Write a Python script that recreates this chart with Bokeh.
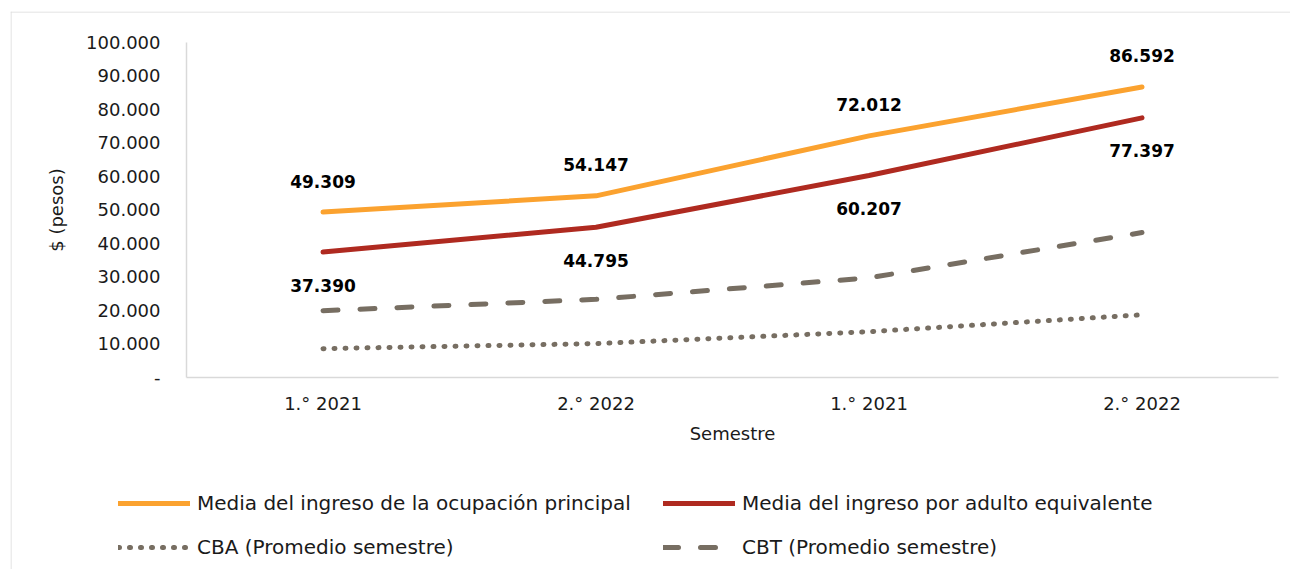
from bokeh.plotting import figure
from bokeh.models import Range1d, FixedTicker, Legend, LegendItem, ColumnDataSource, LabelSet, Span
from bokeh.core.properties import value
from bokeh.embed import file_html
from bokeh.resources import INLINE

# ---- data ----
categories = ["1.° 2021", "2.° 2022", "1.° 2021", "2.° 2022"]
media_ocupacion = [49309, 54147, 72012, 86592]
media_adulto = [37390, 44795, 60207, 77397]
cba = [8600, 10100, 13650, 18700]
cbt = [19900, 23300, 29700, 43200]
y_ticks = [0, 10000, 20000, 30000, 40000, 50000, 60000, 70000, 80000, 90000, 100000]

FONT = "DejaVu Sans"
ORANGE = "#FBA22F"
RED = "#AF2A20"
GRAY = "#776E62"
AXIS_GRAY = "#D9D9D9"
TXT = "#1a1a1a"

def fmt(v):
    return "-" if v == 0 else f"{v:,}".replace(",", ".")

xs = [i + 0.5 for i in range(len(categories))]
n = len(categories)
YMAX = 100000

# ---- layout (pixels) ----
W, H = 1290, 569
FL, FT = 10, 11                 # chart-area frame left/top
AX_L, AX_R = 186, 1278          # plotted x extent
AX_T, AX_B = 41.5, 377          # plotted y extent (YMAX .. 0)
ux = (AX_R - AX_L) / n
uy = (AX_B - AX_T) / YMAX
x_range = Range1d(-(AX_L - FL) / ux, n + (W - AX_R) / ux)
y_range = Range1d(-(H - AX_B) / uy, YMAX + (AX_T - FT) / uy)

p = figure(width=W, height=H, output_backend="svg", toolbar_location=None,
           x_range=x_range, y_range=y_range,
           min_border_left=FL, min_border_top=FT, min_border_right=0, min_border_bottom=0)
p.outline_line_color = None
p.xgrid.visible = False
p.ygrid.visible = False

# chart-area border (left and top edges only, as in the reference)
p.add_layout(Span(location=x_range.start + 0.5 / ux, dimension="height",
                  line_color=AXIS_GRAY, line_width=1))
p.add_layout(Span(location=y_range.end - 0.5 / uy, dimension="width",
                  line_color=AXIS_GRAY, line_width=1))

# axes (fixed at the data origin, bounded to the data extent)
p.yaxis.ticker = FixedTicker(ticks=y_ticks)
p.yaxis.major_label_overrides = {t: fmt(t) for t in y_ticks}
p.xaxis.ticker = FixedTicker(ticks=xs)
p.xaxis.major_label_overrides = {x: c for x, c in zip(xs, categories)}
p.xaxis.fixed_location = 0
p.yaxis.fixed_location = 0
p.xaxis.bounds = (0, n)
p.yaxis.bounds = (0, YMAX)
for ax in (p.xaxis, p.yaxis):
    ax.axis_line_color = AXIS_GRAY
    ax.axis_line_width = 1.5
    ax.major_tick_line_color = None
    ax.minor_tick_line_color = None
    ax.major_label_text_font = FONT
    ax.major_label_text_font_size = "18px"
    ax.major_label_text_color = TXT
    ax.axis_label_text_font = FONT
    ax.axis_label_text_font_size = "18px"
    ax.axis_label_text_font_style = "normal"
    ax.axis_label_text_color = TXT
p.yaxis.major_label_standoff = 20
p.xaxis.major_label_standoff = 9
p.yaxis.axis_label = "$ (pesos)"
p.xaxis.axis_label = "Semestre"
p.yaxis.axis_label_standoff = 16
p.xaxis.axis_label_standoff = 6

# lines
r_or = p.line(xs, media_ocupacion, line_color=ORANGE, line_width=5, line_cap="round")
r_red = p.line(xs, media_adulto, line_color=RED, line_width=5, line_cap="round")
r_cbt = p.line(xs, cbt, line_color=GRAY, line_width=5, line_cap="round", line_dash="15 22")
r_cba = p.line(xs, cba, line_color=GRAY, line_width=5, line_cap="round", line_dash="1 10")

# data labels
src_or = ColumnDataSource(dict(x=xs, y=media_ocupacion, t=[fmt(v) for v in media_ocupacion]))
src_red = ColumnDataSource(dict(x=xs, y=media_adulto, t=[fmt(v) for v in media_adulto]))
for src, off in ((src_or, 31), (src_red, -33)):
    p.add_layout(LabelSet(x="x", y="y", text="t", source=src, y_offset=off, text_align="center",
                          text_baseline="middle", text_font=value(FONT), text_font_size=value("17px"),
                          text_font_style=value("bold"), text_color=value("#000000")))

# legend (two columns; fills column by column)
legend = Legend(items=[LegendItem(label="Media del ingreso de la ocupación principal", renderers=[r_or]),
                       LegendItem(label="CBA (Promedio semestre)", renderers=[r_cba]),
                       LegendItem(label="Media del ingreso por adulto equivalente", renderers=[r_red]),
                       LegendItem(label="CBT (Promedio semestre)", renderers=[r_cbt])],
                ncols=2, location=(118 - FL, 3),
                glyph_width=72, glyph_height=38, label_height=38, label_width=460, spacing=6,
                label_standoff=7, padding=0, margin=0,
                label_text_font=FONT, label_text_font_size="20px", label_text_color=TXT,
                border_line_color=None, background_fill_alpha=0)
p.add_layout(legend)

open("out.html", "w").write(file_html(p, INLINE))
